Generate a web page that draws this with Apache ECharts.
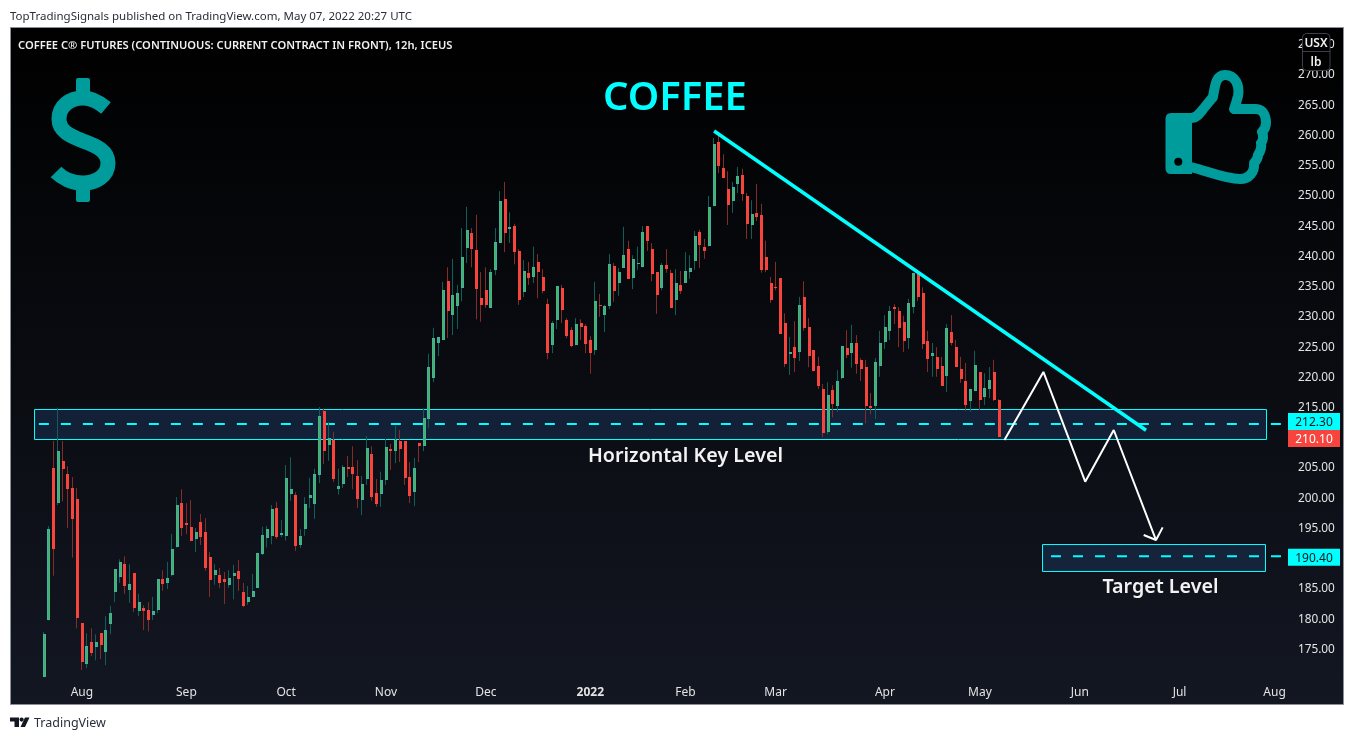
<!DOCTYPE html>
<html><head><meta charset="utf-8"><style>html,body{margin:0;padding:0;background:#fff}#c{width:1354px;height:740px}</style>
<script src="https://cdn.jsdelivr.net/npm/echarts@6/dist/echarts.min.js"></script></head><body><div id="c"></div>
<script>
const opens=[170.5,179.8,205.0,199.3,206.2,204.0,201.7,199.9,179.4,172.6,
176.2,175.4,177.7,174.6,179.2,184.5,187.0,189.1,184.8,187.6,
181.3,181.8,181.5,180.7,181.5,186.6,186.0,187.3,191.9,199.2,
195.9,195.2,193.3,196.1,194.4,190.3,187.3,187.3,186.6,185.7,
187.1,188.0,184.5,182.9,183.7,185.2,190.8,193.4,193.8,198.4,
193.9,193.8,200.7,200.6,192.3,194.9,200.1,199.1,203.9,214.4,
208.8,209.6,201.5,202.4,205.2,205.2,203.7,199.7,203.2,207.3,
200.9,200.7,203.0,208.2,207.8,209.5,209.5,203.5,201.0,209.2,
208.7,213.1,219.9,225.7,226.2,235.9,230.3,231.8,234.8,241.4,
243.9,241.1,233.1,234.4,231.5,237.8,242.2,249.5,244.5,245.0,
240.9,234.1,237.3,236.6,239.1,236.6,232.1,225.3,229.5,234.8,
229.5,227.8,225.3,229.0,228.5,226.2,224.5,232.0,230.3,231.8,
238.4,235.6,238.1,241.2,236.4,238.8,238.2,245.0,241.2,237.4,
234.8,238.6,237.3,232.8,235.3,235.6,237.4,239.2,244.0,241.6,
241.7,248.3,258.9,254.6,251.1,249.2,252.0,253.5,250.0,245.2,
247.2,246.8,239.9,235.6,234.9,236.4,229.0,223.9,225.0,224.2,
233.3,228.3,224.5,221.9,218.1,211.0,217.9,215.3,219.9,224.9,
224.0,225.7,222.9,221.7,215.3,215.3,221.9,225.8,227.7,231.6,
231.0,229.2,226.5,231.6,237.3,233.9,226.0,223.5,223.4,221.9,
220.2,227.5,225.0,221.4,219.4,216.1,217.7,220.9,216.7,218.1,
220.9,216.3];
const closes=[177.5,194.9,191.7,207.8,204.8,201.5,196.6,180.2,172.9,175.6,
174.4,176.2,175.7,178.2,181.0,188.3,189.5,185.5,185.8,181.8,
182.8,181.3,179.9,181.3,186.6,185.8,186.8,191.6,198.9,195.1,
195.6,192.9,194.4,193.6,188.5,186.5,188.1,186.0,186.2,186.8,
187.6,186.6,182.2,183.7,184.7,191.0,193.9,194.9,198.2,193.6,
194.2,203.4,201.5,192.1,193.8,199.1,200.6,204.0,213.6,207.8,
210.0,203.2,202.0,205.2,204.9,204.0,199.9,202.4,208.3,200.2,
199.1,203.0,208.5,207.8,209.6,208.2,203.4,200.4,205.0,208.7,
213.3,221.7,226.5,226.7,234.4,231.0,233.6,233.9,239.9,244.4,
241.2,234.6,232.0,232.0,237.4,242.4,249.2,243.9,244.9,240.7,
232.8,237.6,236.4,238.3,237.4,234.3,224.0,229.0,235.1,231.1,
226.8,225.2,228.8,228.3,225.5,224.0,232.6,231.8,231.8,238.7,
234.3,237.4,240.2,236.3,239.6,238.9,244.0,242.5,237.1,233.6,
238.6,237.9,231.5,235.6,234.3,237.6,238.1,243.4,241.9,240.9,
248.2,258.6,254.9,253.0,248.5,251.5,253.3,250.3,245.4,247.0,
246.5,237.8,237.8,232.8,234.8,227.2,222.2,224.2,223.2,232.0,
228.2,223.5,221.0,218.6,210.8,217.1,215.6,219.4,225.2,223.7,
225.7,222.2,221.4,215.3,214.9,222.5,225.7,228.3,231.0,231.3,
228.2,226.0,232.3,237.3,233.3,225.5,223.0,224.0,221.4,218.6,
228.2,225.7,221.7,219.7,215.4,218.1,222.0,216.3,218.2,219.6,
216.3,210.1];
const highs=[177.9,195.4,209.5,215.0,209.5,205.3,203.5,201.7,179.4,177.7,
178.5,177.5,177.7,180.5,182.2,188.3,189.9,190.4,189.1,187.6,
184.2,182.3,182.8,183.7,186.6,188.1,189.5,194.1,200.2,201.5,
199.2,199.7,195.1,197.4,196.7,191.1,189.1,188.5,187.8,188.1,
189.0,189.8,186.0,185.5,187.5,191.0,195.3,195.4,198.9,199.4,
196.4,205.5,206.8,201.0,194.9,200.2,203.4,204.9,215.1,214.9,
212.6,211.0,204.9,205.5,207.0,208.6,206.3,203.7,210.3,208.6,
203.2,204.4,209.8,209.0,212.0,211.3,209.5,206.0,206.7,209.2,
214.9,223.9,228.2,226.7,235.8,238.2,239.6,235.3,244.7,248.2,
244.7,246.9,237.4,238.2,237.9,244.7,250.8,252.3,247.3,245.4,
241.2,239.4,239.1,241.6,240.4,237.9,233.0,229.3,235.1,235.3,
229.8,228.3,229.8,229.6,228.8,226.8,235.8,233.8,232.0,240.4,
238.9,238.1,244.9,242.6,240.2,241.6,245.0,245.0,242.2,237.4,
238.9,241.2,237.8,237.9,237.6,240.7,240.2,244.2,244.4,242.9,
250.0,259.6,260.2,256.9,254.1,252.3,254.8,254.5,250.5,249.3,
252.0,248.7,242.6,236.6,239.1,236.4,230.6,226.7,229.3,233.3,
235.9,229.8,224.5,223.4,218.9,219.2,218.7,221.2,225.2,227.8,
228.7,227.0,223.2,222.9,217.4,223.2,227.7,230.3,231.8,232.1,
231.6,230.2,233.0,237.3,237.4,234.9,227.7,225.7,225.0,223.4,
228.8,230.3,226.2,223.4,222.4,218.1,224.4,220.9,220.7,221.7,
222.9,216.4];
const lows=[170.5,179.8,187.2,198.9,199.5,195.1,190.2,178.5,171.6,171.9,
173.9,173.2,173.4,172.4,177.5,182.8,186.0,184.2,182.7,181.2,
180.5,178.2,178.0,179.9,181.0,184.7,185.0,187.1,191.9,193.8,
194.1,192.9,191.1,192.3,188.0,183.7,185.7,185.2,182.5,185.2,
183.3,184.7,182.0,182.4,183.7,185.2,190.6,191.9,192.4,193.3,
193.6,193.0,199.6,191.3,191.8,193.8,198.4,196.6,202.5,205.7,
206.2,202.7,200.6,201.7,203.5,201.5,198.4,197.2,202.2,199.6,
198.6,198.6,202.2,204.7,205.8,206.0,202.2,199.2,198.7,206.0,
207.8,211.6,219.2,223.5,226.2,226.5,227.0,228.0,232.6,238.9,
238.2,229.6,229.2,231.5,231.5,236.9,242.2,240.7,242.2,238.7,
232.0,233.3,235.3,235.6,233.1,233.9,223.0,224.0,228.0,229.0,
226.5,225.0,225.3,226.2,224.0,220.6,223.7,230.0,227.5,231.3,
232.5,233.5,238.1,236.3,234.6,237.8,238.2,240.9,235.9,230.5,
234.4,237.3,231.5,230.3,233.8,235.6,236.3,237.8,238.1,239.6,
241.7,248.3,253.8,253.0,245.2,247.2,250.5,249.2,242.9,242.9,
245.9,237.3,237.4,232.3,234.4,227.2,221.7,220.4,220.9,222.7,
227.7,221.7,221.0,218.1,210.1,210.6,213.4,214.3,219.7,223.2,
221.6,220.6,219.4,212.4,213.9,213.1,220.1,224.7,226.2,228.8,
225.0,224.2,224.7,230.6,232.6,224.7,220.9,220.1,220.1,218.6,
217.6,225.3,221.7,219.1,214.4,214.3,217.7,214.6,215.4,216.6,
216.1,210.1];
const tickBars=[8,30,51,72,93,115,135,154,177,197,218,239,259];
const tickLabels=['Aug','Sep','Oct','Nov','Dec','2022','Feb','Mar','Apr','May','Jun','Jul','Aug'];
const trendX=[141.0,231.9], trendP=[260.74,211.25];
const zigX=[202.1,210.3,219.1,225.1,234.0], zigP=[209.65,220.9,202.75,211.3,193.1];
const headX=[231.4,234.0,235.4], headP=[193.93,193.1,195.2];
const zones=[[-2.1,214.72,257.1,209.69],[210.1,192.4,257.1,187.87]];
const keyX=[-1.1,260.5], keyP=212.3;
const targetX=[211.9,260.5], targetP=190.4;
const tagPrices=[212.3,210.1,190.4];

const PAD=6, TOTAL=268, FONT='"Noto Sans",sans-serif';
const CY='#00ffff', TEAL='#009b9b', UP_EDGE='#3fb3a0', UP_CORE='#4caf50', DOWN='#f7453d';
const tagFill=[CY,DOWN,CY], tagText=['#131722','#ffffff','#131722'], tagDy=[-2.4,1.3,0.9];
const cats=Array.from({length:TOTAL},(_,i)=>{const k=tickBars.indexOf(i-PAD);return k>=0?tickLabels[k]:'';});
const ux=u=>u+PAD+0.55;
const pts=(xs,ps)=>xs.map((x,i)=>[ux(x),Array.isArray(ps)?ps[i]:ps]);
const wick=opens.map((o,i)=>[i+PAD,o,closes[i],lows[i],highs[i]]);
const annot=(name,d,color,width,dash,z)=>({name,type:'line',xAxisIndex:1,yAxisIndex:0,data:d,symbol:'none',silent:true,clip:false,z,
  lineStyle:{color,width,type:dash||'solid',cap:'butt'}});
const txt=(text,x,y,font,fill,align,z)=>({type:'text',x,y,z:z||100,silent:true,style:{text,font,fill,align:align||'left',verticalAlign:'middle'}});
const iconPaths=[
 {d:'M10,717.5H19V727H14.5V721.5H10ZM25,717.5H29.5L25,727H20.5Z',style:{fill:'#131722'}},
 {d:'M106,108C100,103 92,98 83,98C70,98 59,106 59,119C59,131 70,136 83,141C97,146 108,151 108,163C108,176 96,183 83,183C72,183 62,178 56,172',style:{fill:'none',stroke:TEAL,lineWidth:15,lineCap:'butt'}},
 {d:'M78,78H88Q90,78 90,80V97H76V80Q76,78 78,78ZM76,182H90V200Q90,202 88,202H78Q76,202 76,200Z',style:{fill:TEAL}},
 {d:'M1171,113H1192V174H1171Q1165.5,174 1165.5,168V119Q1165.5,113 1171,113Z',style:{fill:TEAL}},
 {d:'M1191,118C1197,118 1200,113 1204,108L1213,97C1215,85 1216,75 1225,75C1235,75 1240,85 1238,96C1237,100 1236,104 1234,109L1256,109C1263,109 1266,116 1266,123C1266,127 1264,130 1262,132C1264,136 1263,141 1261,143C1262,148 1260,152 1258,155C1258,159 1256,161 1254,163C1255,172 1249,179 1240,179C1225,179 1210,172 1191,167',style:{fill:'none',stroke:TEAL,lineWidth:10,lineJoin:'round',lineCap:'butt'}}
];

const chart=echarts.init(document.getElementById('c'),null,{renderer:'canvas'});
chart.setOption({
 animation:false,backgroundColor:'#ffffff',
 grid:{left:12.96,top:14.56,width:1273.5,height:665.17,containLabel:false},
 xAxis:[{type:'category',data:cats,boundaryGap:true,axisLine:{show:false},axisTick:{show:false},splitLine:{show:false},
   axisLabel:{interval:(i,v)=>v!=='',margin:7,fontFamily:FONT,fontSize:12,color:'#e4e4e4',hideOverlap:false,
     formatter:v=>v==='2022'?'{b|2022}':v,rich:{b:{fontWeight:'bold',fontFamily:FONT,fontSize:12,color:'#e4e4e4'}}}},
  {type:'value',min:0,max:TOTAL,show:false}],
 yAxis:{type:'value',position:'right',min:170,max:280,interval:5,splitLine:{show:false},axisLine:{show:false},axisTick:{show:false},
   axisLabel:{margin:11.5,padding:[4,0,0,0],fontFamily:FONT,fontSize:11.8,color:'#e4e4e4',formatter:v=>(v<175||v>275)?'':v.toFixed(2)}},
 series:[
  {name:'zones',type:'custom',xAxisIndex:1,yAxisIndex:0,z:1,silent:true,clip:false,data:zones.map(z=>[ux(z[0]),z[1],ux(z[2]),z[3]]),
   renderItem:(p,api)=>{const a=api.coord([api.value(0),api.value(1)]),b=api.coord([api.value(2),api.value(3)]);
     return {type:'rect',shape:{x:Math.round(a[0])+.5,y:Math.round(a[1])+.5,width:Math.round(b[0]-a[0]),height:Math.round(b[1]-a[1])},
       style:{fill:'rgba(32,60,104,0.42)',stroke:CY,lineWidth:1}};}},
  annot('Key level',pts(keyX,keyP),CY,2,[10,12],2),
  annot('Target level',pts(targetX,targetP),CY,2,[10,12],2),
  {name:'wicks',type:'candlestick',xAxisIndex:0,z:3,barWidth:1,silent:true,data:wick,encode:{x:0,y:[1,2,3,4]},
   itemStyle:{color:'#0e5f58',color0:'#842c2a',borderColor:'#0e5f58',borderColor0:'#842c2a',borderWidth:1}},
  {name:'bodies',type:'custom',xAxisIndex:0,yAxisIndex:0,z:4,silent:true,clip:false,data:wick,encode:{x:0,y:[1,2]},
   renderItem:(p,api)=>{const o=api.value(1),c=api.value(2),a=api.coord([api.value(0),Math.max(o,c)]),b=api.coord([api.value(0),Math.min(o,c)]);
     const col=Math.floor(a[0]+0.25),y=Math.round(a[1]),h=Math.max(1,Math.round(b[1])-y),up=c>o;
     const kids=[{type:'rect',shape:{x:col-1,y,width:3,height:h},style:{fill:up?UP_EDGE:DOWN}}];
     if(up&&h>2)kids.push({type:'rect',shape:{x:col,y:y+1,width:1,height:h-2},style:{fill:UP_CORE}});
     return {type:'group',children:kids};}},
  annot('Trend line',pts(trendX,trendP),CY,3.5,null,5),
  annot('Projected path',pts(zigX,zigP),'#ffffff',2,null,6),
  annot('Arrow head',pts(headX,headP),'#ffffff',2,null,6),
  {name:'tags',type:'custom',xAxisIndex:1,yAxisIndex:0,z:7,silent:true,clip:false,data:tagPrices.map(p=>[ux(250),p]),
   renderItem:(p,api)=>{const i=p.dataIndex,v=api.value(1),y=api.coord([api.value(0),v])[1]+tagDy[i];
     return {type:'group',children:[
       {type:'rect',shape:{x:1288,y:y-8.5,width:52,height:17},style:{fill:tagFill[i]}},
       {type:'text',x:1314,y:y+1,style:{text:v.toFixed(2),font:'12px '+FONT,fill:tagText[i],align:'center',verticalAlign:'middle'}}]};}},
  {name:'icons',type:'custom',coordinateSystem:'none',z:8,silent:true,data:[[0]],
   renderItem:()=>({type:'group',children:iconPaths.map(p=>({type:'path',shape:{pathData:p.d},style:p.style}))})}
 ],
 graphic:{elements:[
  {type:'rect',z:-10,silent:true,shape:{x:10.5,y:27.5,width:1333,height:677},
   style:{stroke:'#8b8f9a',lineWidth:1,fill:new echarts.graphic.LinearGradient(0,0,0,1,[{offset:0,color:'#000000'},{offset:1,color:'#131722'}])}},
  txt('TopTradingSignals published on TradingView.com, May 07, 2022 20:27 UTC',10,17,'11.5px '+FONT,'#2a2e39'),
  txt('COFFEE C® FUTURES (CONTINUOUS: CURRENT CONTRACT IN FRONT), 12h, ICEUS',18,45.5,'600 11.15px '+FONT,'#f0f0f0'),
  txt('COFFEE',675,99,'600 40px '+FONT,CY,'center'),
  txt('Horizontal Key Level',685.5,456,'600 19.7px '+FONT,'#f2f2f2','center'),
  txt('Target Level',1160.5,587,'600 19.7px '+FONT,'#f2f2f2','center'),
  txt('TradingView',34,723.5,'12.5px '+FONT,'#2a2e39'),
  {type:'circle',z:100,silent:true,shape:{cx:21.6,cy:719.6,r:2.1},style:{fill:'#131722'}},
  {type:'rect',z:100,silent:true,shape:{x:1302.5,y:33.5,width:27.5,height:37,r:4},style:{fill:'#000',stroke:'#3d4049',lineWidth:1}},
  {type:'line',z:100,silent:true,shape:{x1:1302.5,y1:51.5,x2:1330,y2:51.5},style:{stroke:'#3d4049',lineWidth:1}},
  txt('USX',1316,43.5,'600 12px '+FONT,'#f0f0f0','center',101),
  txt('lb',1316,62.5,'600 12px '+FONT,'#f0f0f0','center',101),
  {type:'circle',z:101,silent:true,shape:{cx:1178.3,cy:161.7,r:4},style:{fill:'#000'}}
 ]}
});
</script></body></html>
